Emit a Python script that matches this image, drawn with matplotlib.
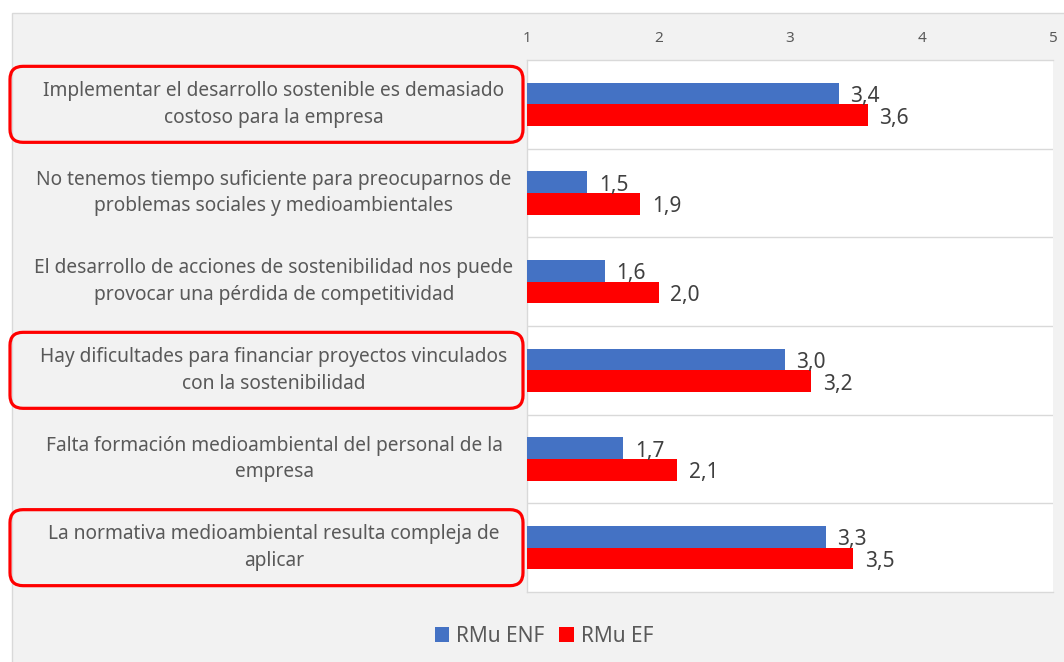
import matplotlib
matplotlib.use("Agg")
import matplotlib.pyplot as plt
from matplotlib.patches import Rectangle, FancyBboxPatch, Patch
from matplotlib.transforms import blended_transform_factory
import numpy as np

# ---- data ----
categories = [
    "Implementar el desarrollo sostenible es demasiado\ncostoso para la empresa",
    "No tenemos tiempo suficiente para preocuparnos de\nproblemas sociales y medioambientales",
    "El desarrollo de acciones de sostenibilidad nos puede\nprovocar una pérdida de competitividad",
    "Hay dificultades para financiar proyectos vinculados\ncon la sostenibilidad",
    "Falta formación medioambiental del personal de la\nempresa",
    "La normativa medioambiental resulta compleja de\naplicar",
]
rmu_enf = [3.37, 1.46, 1.59, 2.96, 1.73, 3.27]
rmu_ef = [3.59, 1.86, 2.00, 3.16, 2.14, 3.48]
series_names = ["RMu ENF", "RMu EF"]
x_ticks = [1, 2, 3, 4, 5]
highlighted = [0, 3, 5]

# ---- style ----
W, H, DPI = 1064, 662, 100
BLUE = "#4472C4"
RED = "#FF0000"
TXT = "#595959"
GRID = "#D9D9D9"
PANEL = "#F2F2F2"
FONT = "Noto Sans"
plt.rcParams["font.family"] = [FONT, "DejaVu Sans"]

fig = plt.figure(figsize=(W / DPI, H / DPI), dpi=DPI, facecolor="white")

# grey chart panel
fig.patches.append(Rectangle((12 / W, -0.01), 1.02, 1 - 13 / H + 0.01,
                             transform=fig.transFigure, facecolor=PANEL,
                             edgecolor=GRID, linewidth=1.0, zorder=-5))

# plot area
left, right, top, bottom = 527, 1053, 60, 592
ax = fig.add_axes([left / W, 1 - bottom / H, (right - left) / W, (bottom - top) / H])
ax.set_zorder(1)
ax.set_facecolor("white")

n = len(categories)
y = np.arange(n)
bh = 0.243
ax.barh(y - bh / 2, [v - 1 for v in rmu_enf], left=1, height=bh, color=BLUE, zorder=3)
ax.barh(y + bh / 2, [v - 1 for v in rmu_ef], left=1, height=bh, color=RED, zorder=3)

ax.set_xlim(1, 5)
ax.set_ylim(n - 0.5, -0.5)
ax.xaxis.tick_top()
ax.set_xticks(x_ticks)
ax.set_xticklabels([str(t) for t in x_ticks])
ax.tick_params(axis="x", length=0, pad=10, labelsize=11, labelcolor=TXT)
ax.set_yticks([])

# category separators
for b in np.arange(0.5, n - 0.5, 1):
    ax.axhline(b, color=GRID, linewidth=1.0, zorder=1)
for s in ["top", "bottom", "left"]:
    ax.spines[s].set_color(GRID)
    ax.spines[s].set_linewidth(1.0)
ax.spines["right"].set_visible(False)

# data labels
def fmt(v):
    return f"{v:.1f}".replace(".", ",")

for i in range(n):
    ax.annotate(fmt(rmu_enf[i]), (rmu_enf[i], i - bh / 2), xytext=(8.5, -2.2),
                textcoords="offset points", va="center", ha="left",
                fontsize=15, color="#404040", zorder=4)
    ax.annotate(fmt(rmu_ef[i]), (rmu_ef[i], i + bh / 2), xytext=(8.5, -2.2),
                textcoords="offset points", va="center", ha="left",
                fontsize=15, color="#404040", zorder=4)

# category labels
tr = blended_transform_factory(fig.transFigure, ax.transData)
for i, c in enumerate(categories):
    ax.text(274 / W, i, c, transform=tr, ha="center", va="center",
            fontsize=13.8, color=TXT, linespacing=1.45, clip_on=False)

# highlight boxes
for i in highlighted:
    _, yc = ax.transData.transform((1, i))
    yc_in = yc / DPI
    bw_in = (523 - 10) / DPI
    bhh_in = 76 / DPI
    box = FancyBboxPatch((10 / DPI, yc_in - bhh_in / 2), bw_in, bhh_in,
                         boxstyle="round,pad=0,rounding_size=0.13",
                         transform=fig.dpi_scale_trans, facecolor="none",
                         edgecolor=RED, linewidth=2.3, zorder=5)
    fig.patches.append(box)

# legend
handles = [Patch(facecolor=BLUE, edgecolor="none"), Patch(facecolor=RED, edgecolor="none")]
fig.legend(handles, series_names, loc="center", bbox_to_anchor=(544 / W, 1 - 636 / H),
           ncol=2, frameon=False, fontsize=15, labelcolor=TXT,
           handlelength=0.7, handleheight=0.7, handletextpad=0.35, columnspacing=0.7)

fig.savefig("out.png", dpi=DPI, facecolor="white")
